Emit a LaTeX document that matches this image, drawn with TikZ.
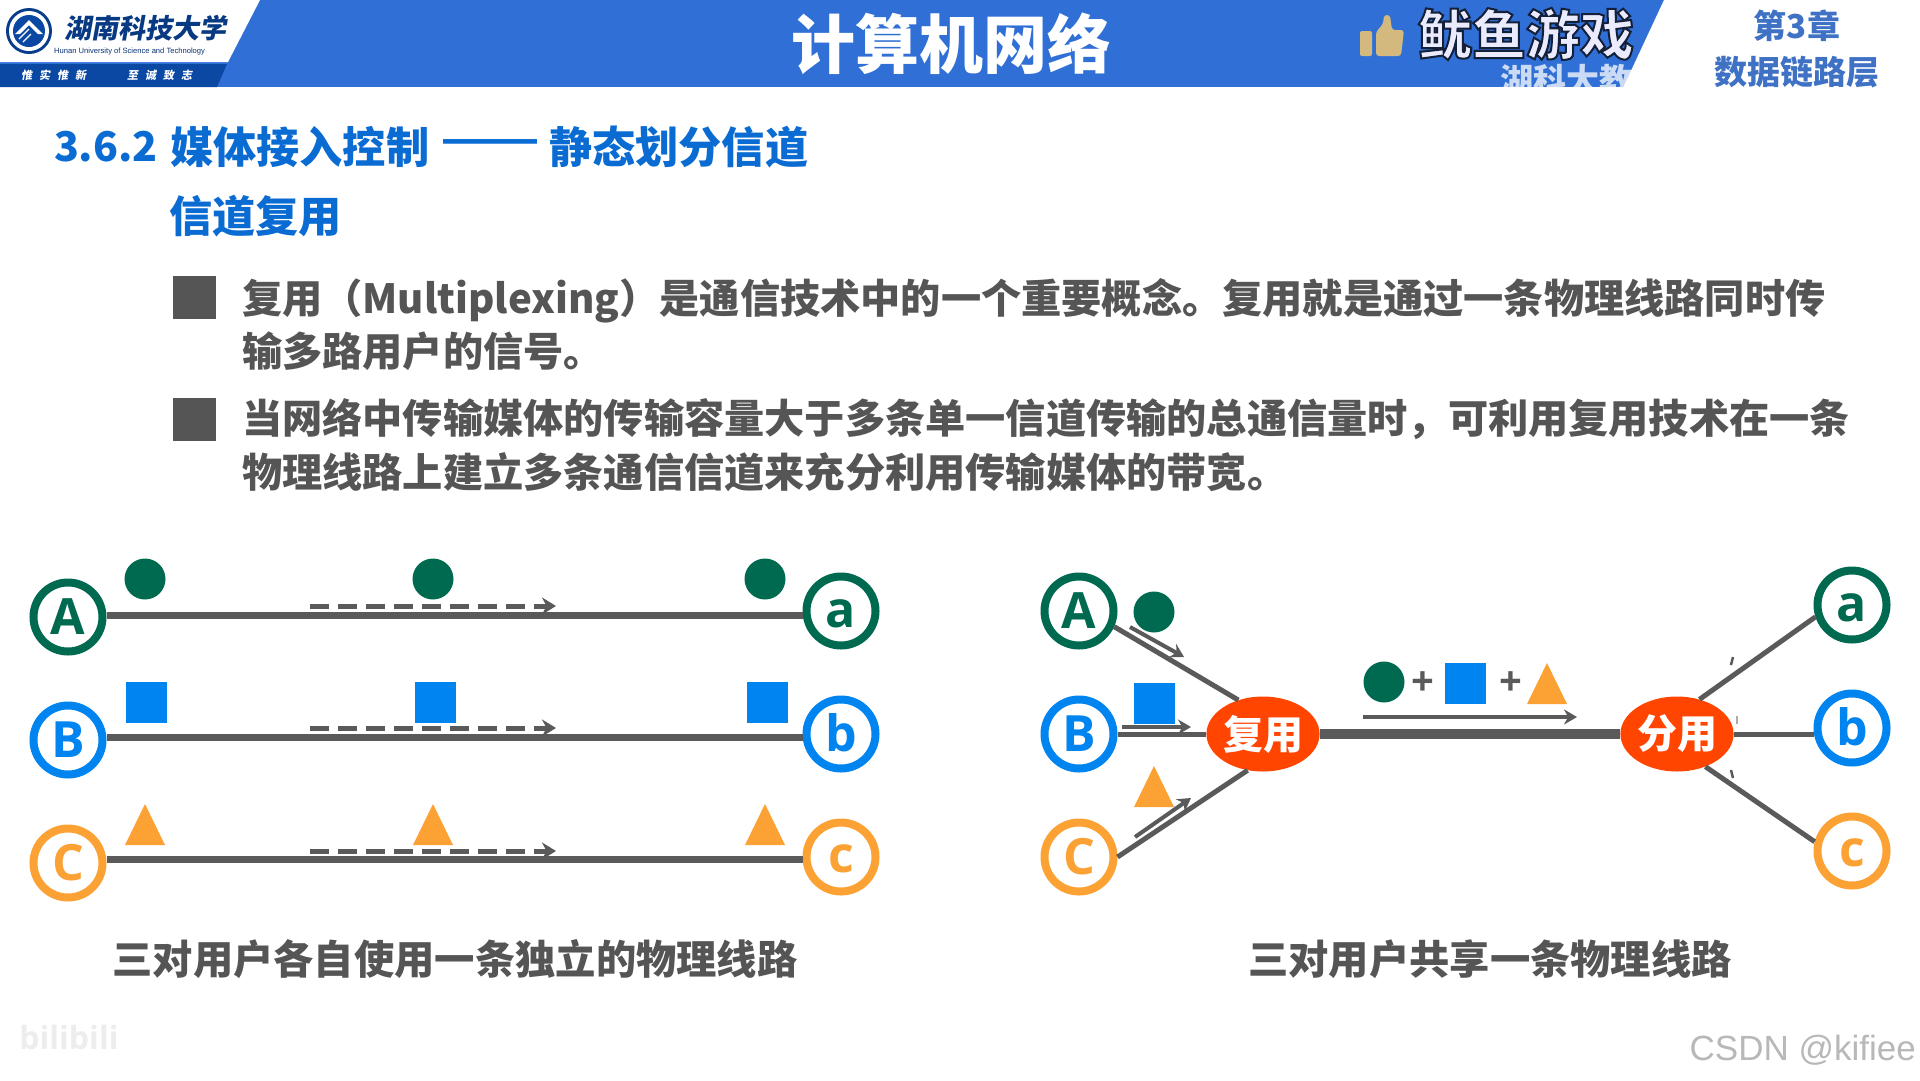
\documentclass[tikz,border=0pt]{standalone}
\usepackage{fontspec}
\usetikzlibrary{arrows.meta,shapes.geometric,calc}
\setmainfont{Noto Sans CJK SC}[BoldFont={Noto Sans CJK SC Bold}]
\newfontfamily\cjkbase{Noto Sans CJK SC}
\newcommand{\cjkb}{\cjkbase\bfseries}
\newfontfamily\cjkslantbase{Noto Sans CJK SC}[FakeSlant=0.18]
\newcommand{\cjkslant}{\cjkslantbase\bfseries}
\newfontfamily\latinb{Open Sans}[BoldFont={Open Sans Bold}]
\newfontfamily\latinr{Liberation Sans}
\definecolor{band}{HTML}{2F6FD6}
\definecolor{navy}{HTML}{0A48A4}
\definecolor{headblue}{HTML}{0A6CD2}
\definecolor{bodygray}{HTML}{555555}
\definecolor{linegray}{HTML}{5A5A5A}
\definecolor{cgreen}{HTML}{006A50}
\definecolor{cblue}{HTML}{0084F0}
\definecolor{corange}{HTML}{FCA235}
\definecolor{cred}{HTML}{FF4500}
\definecolor{gold}{HTML}{D4B97F}
\newcommand{\fsz}[1]{\fontsize{#1}{#1}\selectfont}
\newcommand{\nudge}[2]{\raisebox{#1}[\height][\depth]{#2}}
\tikzset{
  x=1pt,y=-1pt,
  txt/.style={inner sep=0pt,outer sep=0pt,anchor=west,font=\cjkb\fsz{40.2},text=bodygray},
  headtxt/.style={inner sep=0pt,outer sep=0pt,anchor=west,font=\cjkb\fsz{43.2},text=headblue},
  endpt/.style={circle,draw=#1,line width=8pt,fill=white,minimum size=69pt,inner sep=0pt,text=#1,font=\latinb\bfseries\fsz{50}},
  wire/.style={line width=7pt,draw=linegray},
  thin wire/.style={line width=5pt,draw=linegray},
  flow/.style={line width=5pt,draw=linegray,dash pattern=on 19pt off 9pt,-{Stealth[length=14pt,width=17pt]}},
  solidflow/.style={line width=4pt,draw=linegray,-{Stealth[length=13pt,width=15pt]}},
  tick/.style={line width=2.5pt,draw=linegray},
  muxn/.style={ellipse,fill=cred,minimum width=108pt,minimum height=75pt,inner sep=0pt,text=white,font=\cjkb\fsz{40}},
  dotn/.style={circle,fill=cgreen,minimum size=41pt,inner sep=0pt},
  sqn/.style={rectangle,fill=cblue,minimum size=41pt,inner sep=0pt},
  plusn/.style={inner sep=0pt,font=\latinb\bfseries\fsz{40},text=linegray},
  captxt/.style={inner sep=0pt,anchor=center,font=\cjkb\fsz{40.3},text=bodygray},
}
\newcommand{\trishape}[2]{\fill[corange] (#1,#2) -- ++(20,41) -- ++(-40,0) -- cycle;}
\begin{document}
\begin{tikzpicture}
\useasboundingbox (0,0) rectangle (1920,1080);
\fill[white] (0,0) rectangle (1920,1080);
% header band
\fill[band] (0,0) rectangle (1920,87);
\node[inner sep=0pt,anchor=west,font=\cjkb\fsz{33},text=band!25!white] (sub) at (1500,80) {湖科大教};
\fill[white] (1400,87) rectangle (1700,110);
% white right part
\fill[white] (1664,0) -- (1920,0) -- (1920,90) -- (1622,90) -- cycle;
% logo block
\fill[white] (0,0) -- (260,0) -- (228,62) -- (0,62) -- cycle;
\fill[navy] (0,64) -- (227,64) -- (217,87) -- (0,87) -- cycle;
\fill[navy!85!black] (29,31) circle (23);
\fill[white] (29,31) circle (20);
\fill[navy] (29,31) circle (16);
\fill[white] (15,34) -- (29,20) -- (43,34) -- (38,34) -- (29,25) -- (20,34) -- cycle;
\draw[white,line width=1.2pt] (19,39) -- (29,29) (23,42) -- (31,34);
\node[inner sep=0pt,anchor=west,font=\cjkslant\fsz{27},text=navy!80!black] (uni) at (64,28) {湖南科技大学};
\node[inner sep=0pt,anchor=west,font=\latinr\fsz{7.6},text=navy!70!black] (unien) at (54,52) {Hunan University of Science and Technology};
\node[inner sep=0pt,anchor=west,font=\cjkslant\fsz{11},text=white] (m1) at (21,75) {惟\hspace{7pt}实\hspace{7pt}惟\hspace{7pt}新};
\node[inner sep=0pt,anchor=west,font=\cjkslant\fsz{11},text=white] (m2) at (127,75) {至\hspace{7pt}诚\hspace{7pt}致\hspace{7pt}志};
% title
\node[inner sep=0pt,font=\cjkb\fsz{64},text=white] (title) at (951,44) {计算机网络};
% thumb
\fill[gold,rounded corners=2pt] (1360,31) rectangle (1372,56);
\fill[gold,rounded corners=3pt] (1376,56) -- (1376,32) -- (1383,24) -- (1384,15) -- (1390,15) -- (1392,30) -- (1404,30) -- (1401,56) -- cycle;
% brand
\node[inner sep=0pt,font=\cjkb\fsz{54},text=blue!8!white] (brand) at (1526,34) {\special{pdf:code 2 Tr 2 w 0.08 0.12 0.22 RG}鱿鱼游戏\special{pdf:code 0 Tr}};
\node[inner sep=0pt,font=\cjkb\fsz{33},text=band!80!gray] (ch) at (1797,26) {第3章};
\node[inner sep=0pt,font=\cjkb\fsz{33},text=band!80!gray] (chn) at (1797,72) {数据链路层};
% headings
\node[headtxt,font=\cjkb\fsz{41}] (h0) at (54,147) {3.6.2};
\node[headtxt] (h1) at (170,147) {媒体接入控制};
\node[headtxt,font=\latinr\bfseries\fsz{47}] (h2) at (443,147) {——};
\node[headtxt] (h3) at (549,147) {静态划分信道};
\node[headtxt] (h4) at (169,216) {信道复用};
% bullets
\node[fill=bodygray,minimum size=43pt,inner sep=0pt] (b1) at (194,297) {};
\node[fill=bodygray,minimum size=43pt,inner sep=0pt] (b2) at (194,419) {};
\node[txt] (t1) at (242,300.5) {复用（Multiplexing）是通信技术中的一个重要概念。复用就是通过一条物理线路同时传};
\node[txt] (t2) at (242,351) {输多路用户的信号。};
\node[txt] (t3) at (242,419) {当网络中传输媒体的传输容量大于多条单一信道传输的总通信量时，可利用复用技术在一条};
\node[txt] (t4) at (242,472) {物理线路上建立多条通信信道来充分利用传输媒体的带宽。};
% LEFT PANEL
\node[endpt=cgreen] (A) at (68,617) {A};
\node[endpt=cblue] (B) at (68,740) {B};
\node[endpt=corange] (C) at (68,863) {C};
\node[endpt=cgreen] (a) at (841,611) {\nudge{-3pt}{a}};
\node[endpt=cblue] (b) at (841,734) {\nudge{1pt}{b}};
\node[endpt=corange] (c) at (841,857) {\nudge{-2pt}{c}};
\draw[wire] ([yshift=2pt]A.east) -- ([yshift=-4pt]a.west);
\draw[wire] ([yshift=3pt]B.east) -- ([yshift=-3pt]b.west);
\draw[wire] ([yshift=4pt]C.east) -- ([yshift=-2pt]c.west);
\coordinate (fa1) at (310,606); \coordinate (fa2) at (556,606);
\coordinate (fb1) at (310,728); \coordinate (fb2) at (556,728);
\coordinate (fc1) at (310,851); \coordinate (fc2) at (556,851);
\draw[flow] (fa1) -- (fa2);
\draw[flow] (fb1) -- (fb2);
\draw[flow] (fc1) -- (fc2);
\node[dotn] (d1) at (145,579) {};
\node[dotn] (d2) at (433,579) {};
\node[dotn] (d3) at (765,579) {};
\node[sqn] (s1) at (146,702) {};
\node[sqn] (s2) at (435,702) {};
\node[sqn] (s3) at (767,702) {};
\trishape{145}{804}
\trishape{433}{804}
\trishape{765}{804}
\node[captxt] (capl) at (455,959) {三对用户各自使用一条独立的物理线路};
% RIGHT PANEL
\node[endpt=cgreen] (RA) at (1079,611) {A};
\node[endpt=cblue] (RB) at (1079,734) {B};
\node[endpt=corange] (RC) at (1079,857) {C};
\node[endpt=cgreen] (Ra) at (1852,605) {\nudge{-3pt}{a}};
\node[endpt=cblue] (Rb) at (1852,728) {\nudge{1pt}{b}};
\node[endpt=corange] (Rc) at (1852,851) {\nudge{-2pt}{c}};
\node[muxn] (mux) at (1263,734) {复用};
\node[muxn] (dmx) at (1677,734) {分用};
\draw[thin wire] (RA.-24) -- (mux.126);
\draw[thin wire] (RB.east) -- (mux.west);
\draw[thin wire] (RC.east) -- (mux.247);
\draw[line width=10pt,draw=linegray] (mux.east) -- (dmx.west);
\draw[thin wire] (dmx.57) -- (Ra.198);
\draw[thin wire] (dmx.east) -- ([yshift=-6pt]Rb.west);
\draw[thin wire] (dmx.-49) -- (Rc.166);
\coordinate (ra1) at (1130,627); \coordinate (ra2) at (1184,657);
\coordinate (rb1) at (1122,727); \coordinate (rb2) at (1191,727);
\coordinate (rc1) at (1135,837); \coordinate (rc2) at (1191,798);
\coordinate (rm1) at (1363,717); \coordinate (rm2) at (1577,717);
\draw[solidflow] (ra1) -- (ra2);
\draw[solidflow] (rb1) -- (rb2);
\draw[solidflow] (rc1) -- (rc2);
\draw[solidflow] (rm1) -- (rm2);
% small remnants of the fading arrows beside the demultiplexer
\coordinate (k1a) at (1731,665); \coordinate (k1b) at (1733,657);
\coordinate (k2a) at (1737,716); \coordinate (k2b) at (1737,724);
\coordinate (k3a) at (1731,770); \coordinate (k3b) at (1733,778);
\draw[tick] (k1a) -- (k1b);
\draw[tick,draw=linegray!50] (k2a) -- (k2b);
\draw[tick] (k3a) -- (k3b);
\node[dotn] (rd) at (1154,612) {};
\node[sqn] (rs) at (1154.5,703) {};
\trishape{1154}{766}
\node[dotn] (md) at (1384,682) {};
\node[plusn] (p1) at (1423,684) {+};
\node[sqn] (ms) at (1465.5,683) {};
\node[plusn] (p2) at (1511,684) {+};
\trishape{1547}{663}
\node[captxt] (capr) at (1490,959) {三对用户共享一条物理线路};
% watermarks
\node[inner sep=0pt,font=\latinb\bfseries\fsz{32},text=black!7] (bili) at (69,1037) {bilibili};
\node[inner sep=0pt,anchor=east,font=\latinr\fsz{35},text=black!28] (csdn) at (1916,1050) {CSDN @kifiee};
\end{tikzpicture}
\end{document}
